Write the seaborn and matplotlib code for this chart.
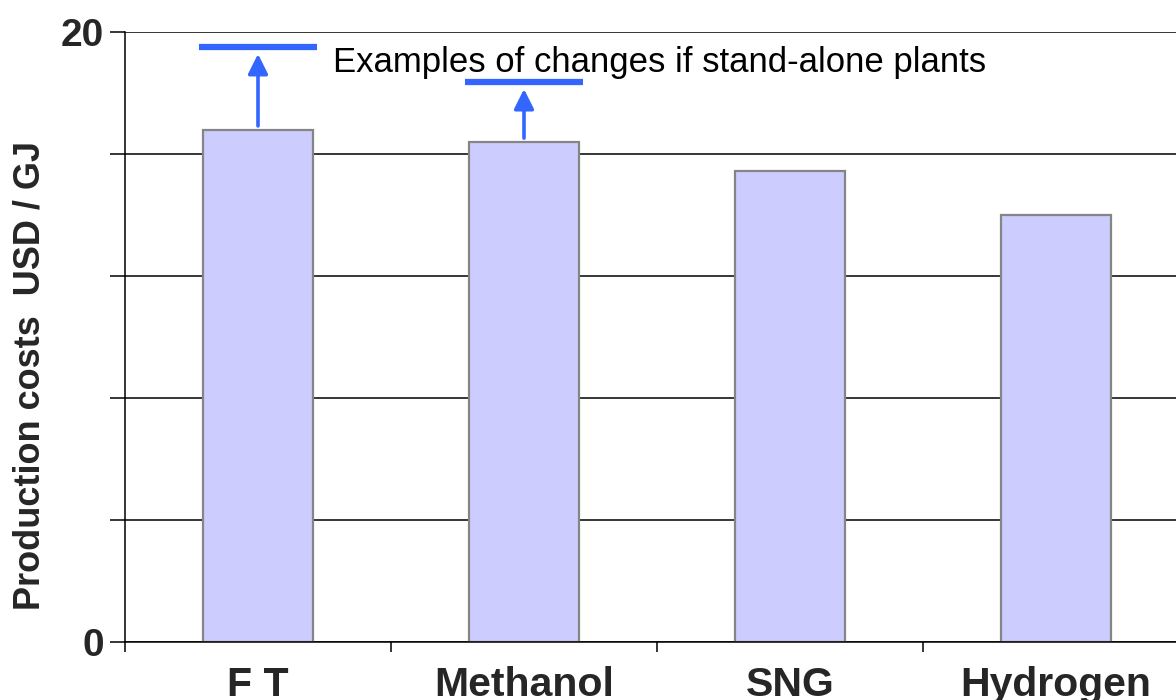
import matplotlib
matplotlib.use("Agg")
import matplotlib.pyplot as plt
import seaborn as sns
import pandas as pd
import numpy as np

# data
fuels = ["F T", "Methanol", "SNG", "Hydrogen"]
costs = [16.8, 16.4, 15.45, 14.0]
standalone_fuels = ["F T", "Methanol"]
standalone_costs = [19.5, 18.35]
y_ticks = [0, 4, 8, 12, 16, 20]
y_ticklabels = ["0", "", "", "", "", "20"]
note = "Examples of changes if stand-alone plants"

df = pd.DataFrame({"fuel": fuels, "cost": costs})

sns.set_style("white")
plt.rcParams["font.family"] = ["Liberation Sans", "DejaVu Sans"]

fig = plt.figure(figsize=(11.76, 7), dpi=100)
ax = fig.add_axes([125 / 1176, 58 / 700, 1064 / 1176, 610 / 700])

sns.barplot(data=df, x="fuel", y="cost", ax=ax, color="#CCCCFF",
            saturation=1, width=0.41, edgecolor="#858585", linewidth=1.6)

# stand-alone markers with arrows
blue = "#3366FF"
for name, val in zip(standalone_fuels, standalone_costs):
    i = fuels.index(name)
    ax.hlines(val, i - 0.22, i + 0.22, color=blue, lw=4.5, zorder=4)
    ax.annotate("", xy=(i, val - 0.22), xytext=(i, costs[i] + 0.12),
                arrowprops=dict(arrowstyle="-|>", color=blue, lw=2.6,
                                mutation_scale=30, shrinkA=0, shrinkB=0),
                zorder=4)

ax.text(0.282, 19.0, note, fontsize=25, va="center", ha="left", color="black")

ax.set_ylim(0, 20)
ax.set_xlim(-0.5, len(fuels) - 0.5)
ax.set_yticks(y_ticks)
ax.set_yticklabels(y_ticklabels, fontsize=28, fontweight="bold")
ax.yaxis.grid(True, color="black", lw=1.1)
ax.set_axisbelow(True)
ax.tick_params(axis="y", which="major", direction="out", length=11, width=1.1,
               color="black", pad=4, left=True)

ax.set_xticks(range(len(fuels)))
ax.set_xticklabels(fuels, fontsize=29.5, fontweight="bold")
ax.tick_params(axis="x", which="major", length=0, pad=17)
ax.set_xticks(np.arange(len(fuels) + 1) - 0.5, minor=True)
ax.tick_params(axis="x", which="minor", direction="out", length=7, width=1.1,
               color="black", bottom=True)

for side in ["top", "right"]:
    ax.spines[side].set_visible(False)
for side in ["left", "bottom"]:
    ax.spines[side].set_color("black")
    ax.spines[side].set_linewidth(1.1)

ax.set_xlabel("")
ax.set_ylabel("")
fig.text(30 / 1176, 1 - 376 / 700, "Production costs  USD / GJ", rotation=90,
         fontsize=26, fontweight="bold", ha="center", va="center")

fig.savefig("out.png", dpi=100)
